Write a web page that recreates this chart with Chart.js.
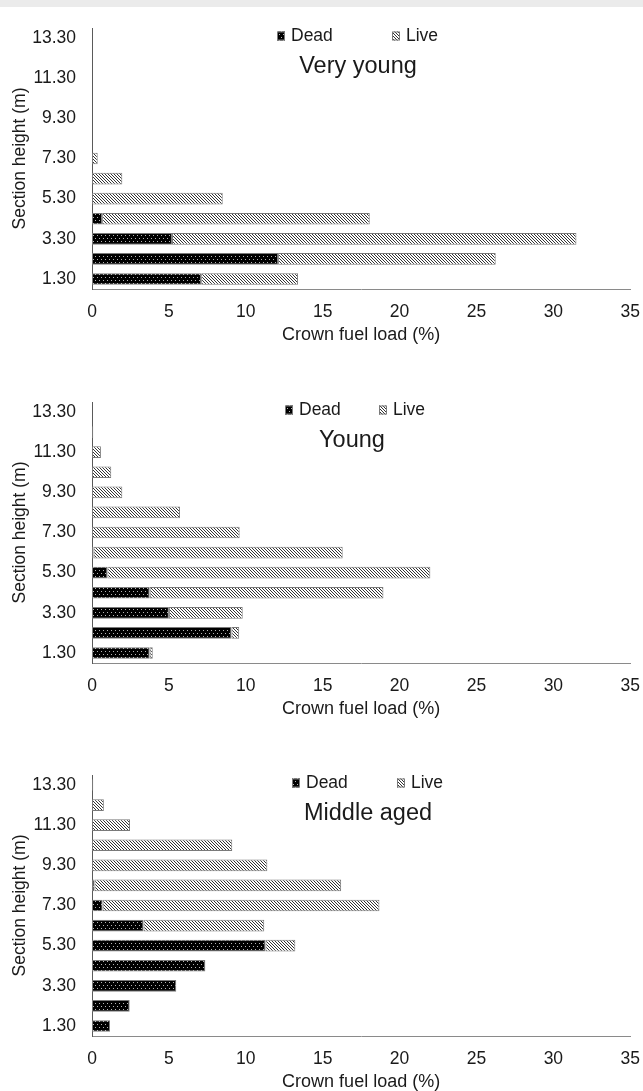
<!DOCTYPE html>
<html>
<head>
<meta charset="utf-8">
<script src="https://cdn.jsdelivr.net/npm/chart.js@4.4.1/dist/chart.umd.min.js"></script>
<style>
  html, body { margin: 0; padding: 0; background: #fff; overflow: hidden; }
  .band { position: absolute; left: 0; top: 0; width: 643px; height: 7px; background: #ebebeb; }
  canvas { position: absolute; left: 0; }
</style>
</head>
<body>
<div class="band"></div>
<canvas id="c1" width="643" height="360" style="top:0px"></canvas>
<canvas id="c2" width="643" height="360" style="top:374px"></canvas>
<canvas id="c3" width="643" height="360" style="top:747px"></canvas>
<script>
// section heights (bottom to top)
const heights = ['1.30', '2.30', '3.30', '4.30', '5.30', '6.30', '7.30', '8.30', '9.30', '10.30', '11.30', '12.30', '13.30'];
const xTicks = [0, 5, 10, 15, 20, 25, 30, 35];

// crown fuel load (%) per section
const veryYoungDead = [7.1, 12.1, 5.2, 0.66, 0, 0, 0, 0, 0, 0, 0, 0, 0];
const veryYoungLive = [6.3, 14.15, 26.3, 17.4, 8.5, 1.97, 0.37, 0, 0, 0, 0, 0, 0];
const youngDead = [3.75, 9.07, 5.0, 3.75, 1.0, 0.1, 0, 0, 0, 0, 0, 0, 0];
const youngLive = [0.2, 0.5, 4.8, 15.2, 21.0, 16.2, 9.6, 5.72, 1.97, 1.25, 0.58, 0.08, 0];
const middleDead = [1.17, 2.45, 5.48, 7.37, 11.28, 3.35, 0.69, 0.16, 0, 0, 0, 0, 0];
const middleLive = [0, 0, 0, 0, 1.94, 7.85, 18.0, 16.04, 11.4, 9.12, 2.47, 0.77, 0.08];

const FONT = '"Liberation Sans", Arial, sans-serif';
const TEXT = '#1a1a1a';
const EDGE = '#7a7a7a';

function makeTile(w, h, bg, fg, pts) {
  const c = document.createElement('canvas');
  c.width = w; c.height = h;
  const g = c.getContext('2d');
  g.fillStyle = bg; g.fillRect(0, 0, w, h);
  g.fillStyle = fg;
  pts.forEach(p => g.fillRect(p[0], p[1], 1, 1));
  return g.createPattern(c, 'repeat');
}
const deadFill = makeTile(4, 6, '#000', '#b5b5b5', [[1, 1], [3, 4]]);
const liveFill = makeTile(3, 3, '#fff', '#333', [[0, 0], [1, 1], [2, 2]]);

// legend + panel title drawn inside the plot area
const overlay = {
  id: 'overlay',
  afterDraw(chart, args, opts) {
    const ctx = chart.ctx;
    const top = chart.chartArea.top;
    ctx.save();
    ctx.font = '17.5px ' + FONT;
    ctx.textBaseline = 'middle';
    chart.data.datasets.forEach((ds, i) => {
      const x = opts.legendX[i];
      const y = top + opts.legendDy;
      ctx.fillStyle = ds.backgroundColor;
      ctx.fillRect(x, y - 4.5, 8, 9);
      ctx.strokeStyle = EDGE;
      ctx.lineWidth = 1;
      ctx.strokeRect(x + 0.5, y - 4, 7, 8);
      ctx.fillStyle = TEXT;
      ctx.textAlign = 'left';
      ctx.fillText(ds.label, x + 14, y);
    });
    ctx.font = '23.5px ' + FONT;
    ctx.textAlign = 'center';
    ctx.fillStyle = TEXT;
    ctx.fillText(opts.text, opts.titleX, top + opts.titleDy);
    ctx.restore();
  }
};

function panel(id, dead, live, title, legendX, titleX) {
  new Chart(document.getElementById(id), {
    type: 'bar',
    data: {
      labels: heights,
      datasets: [
        { label: 'Dead', data: dead, backgroundColor: deadFill, borderColor: EDGE, borderWidth: 1, borderSkipped: false },
        { label: 'Live', data: live, backgroundColor: liveFill, borderColor: EDGE, borderWidth: 1, borderSkipped: false }
      ]
    },
    options: {
      indexAxis: 'y',
      responsive: false,
      animation: false,
      barPercentage: 0.58,
      categoryPercentage: 1,
      layout: { padding: { top: 28, right: 2, left: 0, bottom: 0 } },
      plugins: {
        legend: { display: false },
        tooltip: { enabled: false },
        overlay: { text: title, legendX: legendX, legendDy: 8, titleX: titleX, titleDy: 39 }
      },
      scales: {
        x: {
          stacked: true,
          min: xTicks[0],
          max: xTicks[xTicks.length - 1],
          afterBuildTicks: s => { s.ticks = xTicks.map(v => ({ value: v })); },
          afterFit: s => { s.height = 71; },
          grid: { display: false, drawTicks: true, tickLength: 10 },
          border: { display: true, color: '#8a8a8a', width: 1 },
          ticks: { padding: 3, color: TEXT, font: { family: FONT, size: 17.5 } },
          title: { display: true, text: 'Crown fuel load (%)', color: TEXT, font: { family: FONT, size: 18 }, padding: { top: 0, bottom: 14 } }
        },
        y: {
          stacked: true,
          reverse: true,
          afterFit: s => { s.width = 92; },
          grid: { display: false, drawTicks: false },
          border: { display: true, color: '#5a5a5a', width: 1 },
          ticks: {
            autoSkip: false,
            padding: 16,
            color: TEXT,
            font: { family: FONT, size: 17.5 },
            callback: function (v, i) { return i % 2 === 0 ? this.getLabelForValue(v) : ''; }
          },
          title: { display: true, text: 'Section height (m)', color: TEXT, font: { family: FONT, size: 17.5 }, padding: { top: 10, bottom: 0 } }
        }
      }
    },
    plugins: [overlay]
  });
}

panel('c1', veryYoungDead, veryYoungLive, 'Very young', [277, 392], 358);
panel('c2', youngDead, youngLive, 'Young', [285, 379], 352);
panel('c3', middleDead, middleLive, 'Middle aged', [292, 397], 368);
</script>
</body>
</html>
